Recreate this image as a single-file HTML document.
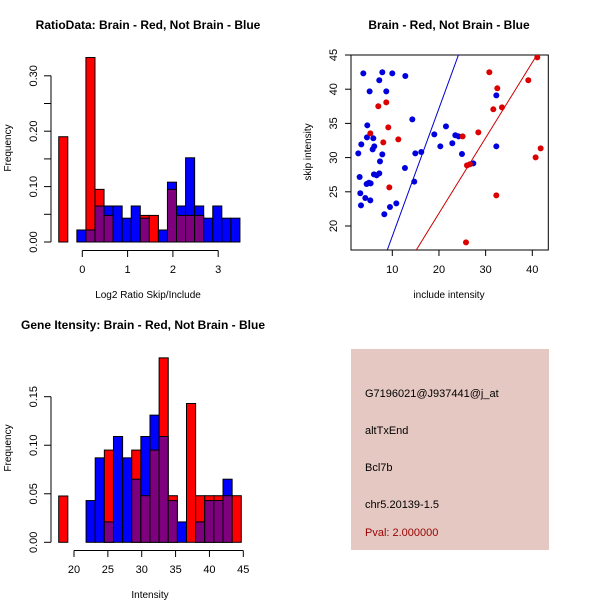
<!DOCTYPE html>
<html><head><meta charset="utf-8"><style>
html,body{margin:0;padding:0;background:#fff;}
svg{display:block;font-family:"Liberation Sans",Arial,sans-serif;}
</style></head><body>
<svg id="c" width="600" height="600" viewBox="0 0 600 600" xmlns="http://www.w3.org/2000/svg">
<rect x="0" y="0" width="600" height="600" fill="#fff"/>
<g id="p1"></g>
<g id="p2"></g>
<g id="p3"></g>
<g id="p4">
<rect x="351" y="349" width="198" height="201" fill="#e5c8c2"/>
<text x="365" y="397" font-size="11" fill="#000">G7196021@J937441@j_at</text>
<text x="365" y="434" font-size="11" fill="#000">altTxEnd</text>
<text x="365" y="471" font-size="11" fill="#000">Bcl7b</text>
<text x="365" y="508" font-size="11" fill="#000">chr5.20139-1.5</text>
<text x="365" y="536" font-size="11" fill="#990000">Pval: 2.000000</text>
</g>
</svg>
<script>
// ---- Plot 1: ratio histogram ----
const ratioBinStart = -0.52, ratioBinWidth = 0.2;
const ratioRed  = [0.19,0,0,0.333,0.095,0.048,0,0,0,0.048,0.048,0,0.095,0.048,0.048,0.048,0,0,0,0];
const ratioBlue = [0,0,0.0217,0.0217,0.065,0.065,0.065,0.043,0.065,0.043,0,0.0217,0.108,0.065,0.152,0.065,0.043,0.065,0.043,0.043];
const ratioXTicks = [0,1,2,3];
const ratioYTicks = ["0.00","0.10","0.20","0.30"];
const ratioYMinor = [0.05,0.15,0.25];
// ---- Plot 3: intensity histogram ----
const intBinStart = 17.74, intBinWidth = 1.348;
const intRed  = [0.0477,0,0,0,0,0.095,0,0,0.095,0.048,0.095,0.19,0.048,0,0.143,0.048,0.048,0.048,0.048,0.048];
const intBlue = [0,0,0,0.043,0.087,0.021,0.109,0.087,0.065,0.109,0.131,0.109,0.043,0.021,0,0.021,0.043,0.043,0.065,0];
const intXTicks = [20,25,30,35,40,45];
const intYTicks = ["0.00","0.05","0.10","0.15"];
// ---- Plot 2: scatter ----
const blueX = [3.79,7.86,10,12.79,7.21,5.14,8.71,14.29,4.64,3.36,4.57,5.93,5.79,6.14,2.71,7.86,7.36,12.71,3.0,6.07,6.64,7.21,4.5,5.0,5.36,3.14,4.21,3.29,5.29,9.5,10.86,8.29,14.71,14.93,16.21,19.0,21.5,20.29,22.86,23.5,24.21,24.93,27.36,32.29,32.29];
const blueY = [42.32,42.47,42.32,41.93,41.30,39.69,39.69,35.59,34.72,31.94,32.96,32.82,31.21,31.65,30.62,30.48,29.45,28.48,27.16,27.55,27.41,27.70,26.14,26.33,26.24,24.78,24.09,23.02,23.75,22.78,23.31,21.71,26.48,30.62,30.82,33.40,34.57,31.65,32.09,33.26,33.11,30.53,29.16,39.10,31.65];
const redX = [5.29,7.0,8.71,9.14,8.07,11.29,9.36,25.07,28.43,26.0,26.64,25.79,30.79,31.64,32.5,33.5,32.29,39.14,41.07,40.71,41.79];
const redY = [33.55,37.50,38.08,34.42,32.23,32.67,25.65,33.11,33.69,28.87,29.02,17.61,42.47,37.06,40.13,37.35,24.48,41.30,44.66,30.04,31.35];
const blueLine = [-0.2, 1.87];   // intercept, slope
const redLine = [-0.2, 1.103];
const scXTicks = [10,20,30,40];
const scYTicks = [20,25,30,35,40,45];

const NS = "http://www.w3.org/2000/svg";
function mk(parent, tag, attrs, txt){
  const e = document.createElementNS(NS, tag);
  for (const k in attrs) e.setAttribute(k, attrs[k]);
  if (txt !== undefined) e.textContent = txt;
  parent.appendChild(e);
  return e;
}
function title(g, x, y, s){
  const t = mk(g,'text',{x:x,y:y,'font-size':12,'font-weight':'bold','text-anchor':'middle'},s);
  
  
}
function ylab(g, x, y, s, name){
  const t = mk(g,'text',{x:x,y:y,'font-size':10,'text-anchor':'middle',transform:`rotate(-90 ${x} ${y})`},s);
  
  
}
function xlab(g, x, y, s, name){
  const t = mk(g,'text',{x:x,y:y,'font-size':10,'text-anchor':'middle'},s);
  
  
}

function histogram(g, start, width, red, blue, sx, sy){
  for (let i=0;i<red.length;i++){
    const x0 = sx(start+i*width), x1 = sx(start+(i+1)*width);
    const r = red[i], b = blue[i];
    const hi = Math.max(r,b), lo = Math.min(r,b);
    if (hi>0){
      const col = r>=b ? '#ff0000' : '#0000ff';
      const rc = mk(g,'rect',{x:x0,y:sy(hi),width:x1-x0,height:sy(0)-sy(hi),fill:col,stroke:'#000','stroke-width':1});
      
      
    }
    if (lo>0){
      const rc = mk(g,'rect',{x:x0,y:sy(lo),width:x1-x0,height:sy(0)-sy(lo),fill:'#7f007f',stroke:'#000','stroke-width':1});
      
      
    }
  }
}

// Plot 1
(function(){
  const g = document.getElementById('p1');
  const sx = v => 82.3 + v*45.3;
  const sy = v => 242 - v*554;
  histogram(g, ratioBinStart, ratioBinWidth, ratioRed, ratioBlue, sx, sy);
  mk(g,'line',{x1:51,y1:sy(0),x2:51,y2:sy(0.30),stroke:'#000'});
  ratioYTicks.forEach(s=>{
    const v=parseFloat(s), y=sy(v);
    mk(g,'line',{x1:44,y1:y,x2:51,y2:y,stroke:'#000'});
    const t=mk(g,'text',{x:37,y:y,'font-size':11,'text-anchor':'middle',transform:`rotate(-90 37 ${y})`},s);
    
    
  });
  ratioYMinor.forEach(v=>{ const y=sy(v); mk(g,'line',{x1:44,y1:y,x2:51,y2:y,stroke:'#000'}); });
  mk(g,'line',{x1:sx(0),y1:250.5,x2:sx(3),y2:250.5,stroke:'#000'});
  ratioXTicks.forEach(v=>{
    mk(g,'line',{x1:sx(v),y1:250.5,x2:sx(v),y2:257,stroke:'#000'});
    const t=mk(g,'text',{x:sx(v),y:273,'font-size':11,'text-anchor':'middle'},String(v));
    
    
  });
  title(g,148,29,'RatioData: Brain - Red, Not Brain - Blue');
  xlab(g,148,298,'Log2 Ratio Skip/Include','x-axis-title');
  ylab(g,11,148,'Frequency','y-axis-title');
})();

// Plot 3
(function(){
  const g = document.getElementById('p3');
  const sx = v => 74 + (v-20)*6.772;
  const sy = v => 542.3 - v*970.7;
  histogram(g, intBinStart, intBinWidth, intRed, intBlue, sx, sy);
  mk(g,'line',{x1:51,y1:sy(0),x2:51,y2:sy(0.15),stroke:'#000'});
  intYTicks.forEach(s=>{
    const v=parseFloat(s), y=sy(v);
    mk(g,'line',{x1:44,y1:y,x2:51,y2:y,stroke:'#000'});
    const t=mk(g,'text',{x:37,y:y,'font-size':11,'text-anchor':'middle',transform:`rotate(-90 37 ${y})`},s);
    
    
  });
  mk(g,'line',{x1:sx(20),y1:550.5,x2:sx(45),y2:550.5,stroke:'#000'});
  intXTicks.forEach(v=>{
    mk(g,'line',{x1:sx(v),y1:550.5,x2:sx(v),y2:557,stroke:'#000'});
    const t=mk(g,'text',{x:sx(v),y:573,'font-size':11,'text-anchor':'middle'},String(v));
    
    
  });
  title(g,143,329,'Gene Itensity: Brain - Red, Not Brain - Blue');
  xlab(g,150,598,'Intensity','x-axis-title');
  ylab(g,11,448,'Frequency','y-axis-title');
})();

// Plot 2
(function(){
  const g = document.getElementById('p2');
  const L=351,R=548.3,T=55,B=250;
  const sx = v => 392.3 + (v-10)*4.667;
  const sy = v => 55 + (45-v)*6.84;
  const inv = px => 10 + (px-392.3)/4.667;
  mk(g,'defs',{}).innerHTML = `<clipPath id="clipsc"><rect x="${L}" y="${T}" width="${R-L}" height="${B-T}"/></clipPath>`;
  const box = mk(g,'rect',{x:L,y:T,width:R-L,height:B-T,fill:'none',stroke:'#000'});
  
  
  const cg = mk(g,'g',{'clip-path':'url(#clipsc)'});
  [[blueLine,'#0000cc','blue-fit-line'],[redLine,'#cc0000','red-fit-line']].forEach(([ln,col,nm])=>{
    const xa=inv(L-5), xb=inv(R+5);
    const l=mk(cg,'line',{x1:sx(xa),y1:sy(ln[0]+ln[1]*xa),x2:sx(xb),y2:sy(ln[0]+ln[1]*xb),stroke:col,'stroke-width':1});
    
    
  });
  blueX.forEach((x,i)=>{
    const c=mk(cg,'circle',{cx:sx(x),cy:sy(blueY[i]),r:3,fill:'#0000dd'});
    
    
  });
  redX.forEach((x,i)=>{
    const c=mk(cg,'circle',{cx:sx(x),cy:sy(redY[i]),r:3,fill:'#dd0000'});
    
    
  });
  scXTicks.forEach(v=>{
    mk(g,'line',{x1:sx(v),y1:B,x2:sx(v),y2:B+6,stroke:'#000'});
    const t=mk(g,'text',{x:sx(v),y:273,'font-size':11,'text-anchor':'middle'},String(v));
    
    
  });
  scYTicks.forEach(v=>{
    const y=sy(v);
    mk(g,'line',{x1:L-6,y1:y,x2:L,y2:y,stroke:'#000'});
    const t=mk(g,'text',{x:337,y:y,'font-size':11,'text-anchor':'middle',transform:`rotate(-90 337 ${y})`},String(v));
    
    
  });
  title(g,449,29,'Brain - Red, Not Brain - Blue');
  xlab(g,449,298,'include intensity','x-axis-title');
  ylab(g,311,152,'skip intensity','y-axis-title');
})();
</script>
</body></html>
